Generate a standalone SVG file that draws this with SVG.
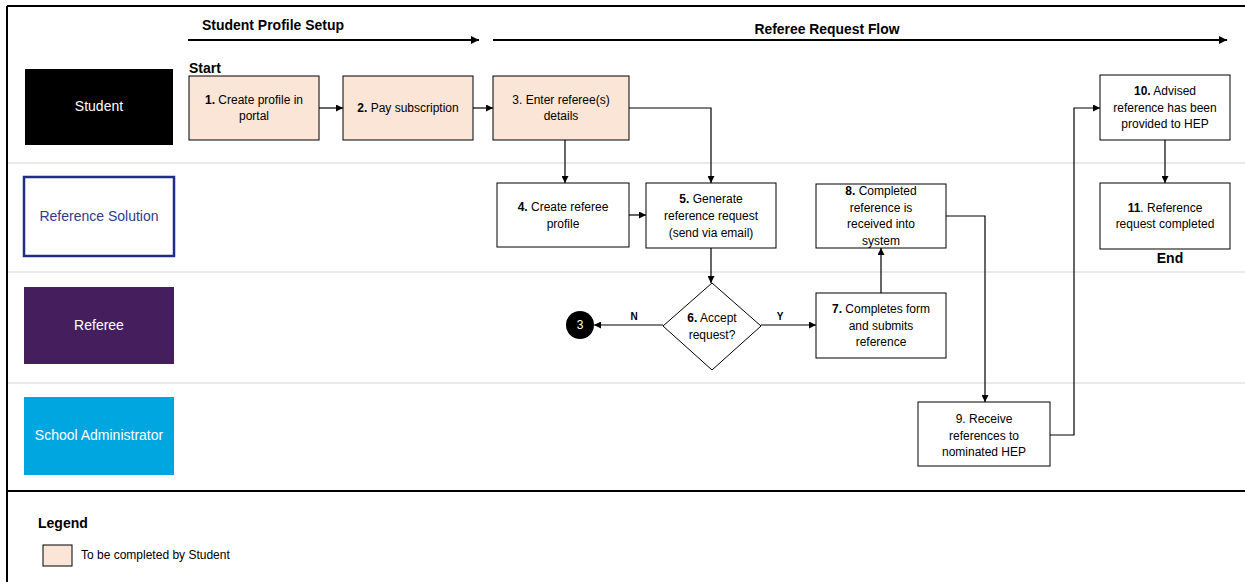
<svg xmlns="http://www.w3.org/2000/svg" width="1245" height="582" viewBox="0 0 1245 582">
<defs>
<marker id="ah" viewBox="0 0 10 10" refX="10" refY="5" markerWidth="7" markerHeight="7" markerUnits="userSpaceOnUse" orient="auto">
<path d="M0,0 L10,5 L0,10 z" fill="#000"/>
</marker>
<marker id="ah2" viewBox="0 0 10 10" refX="10" refY="5" markerWidth="8" markerHeight="8" markerUnits="userSpaceOnUse" orient="auto">
<path d="M0,0 L10,5 L0,10 z" fill="#000"/>
</marker>
<style>
text{font-family:"Liberation Sans",Arial,sans-serif;}
.t{font-size:12px;fill:#000;text-anchor:middle;}
.b{font-weight:bold;}
.box{fill:#fff;stroke:#000;stroke-width:1;}
.stu{fill:#fbe5d6;stroke:#000;stroke-width:1;}
.lane{font-size:14px;text-anchor:middle;}
.sep{stroke:#e3e3e3;stroke-width:1.5;}
.c{fill:none;stroke:#000;stroke-width:1.2;marker-end:url(#ah);}
.p{fill:none;stroke:#000;stroke-width:2;marker-end:url(#ah2);}
.ph{font-size:14px;font-weight:bold;text-anchor:middle;}
</style>
</defs>
<rect width="1245" height="582" fill="#fff"/>
<g id="frame">
<line x1="7" y1="6" x2="1245" y2="6" stroke="#000" stroke-width="2"/>
<line x1="7" y1="6" x2="7" y2="582" stroke="#000" stroke-width="2"/>
<line x1="7" y1="491" x2="1245" y2="491" stroke="#000" stroke-width="2"/>
<line class="sep" x1="8" y1="163" x2="1245" y2="163"/>
<line class="sep" x1="8" y1="272" x2="1245" y2="272"/>
<line class="sep" x1="8" y1="383" x2="1245" y2="383"/>
</g>
<g id="phases">
<text class="ph" x="273" y="30" textLength="142" lengthAdjust="spacingAndGlyphs">Student Profile Setup</text>
<line class="p" x1="188" y1="40" x2="479" y2="40"/>
<text class="ph" x="827" y="34" textLength="145" lengthAdjust="spacingAndGlyphs">Referee Request Flow</text>
<line class="p" x1="493" y1="40" x2="1227" y2="40"/>
</g>
<g id="lane-student"><rect x="25" y="69" width="148" height="76" fill="#000"/><text class="lane" x="99" y="111" fill="#fff">Student</text></g>
<g id="lane-refsol"><rect x="24" y="177" width="150" height="79" fill="#fff" stroke="#1f2d86" stroke-width="2.5"/><text class="lane" x="99" y="221" fill="#2e3b8c">Reference Solution</text></g>
<g id="lane-referee"><rect x="24" y="287" width="150" height="77" fill="#451e5e"/><text class="lane" x="99" y="330" fill="#fff">Referee</text></g>
<g id="lane-admin"><rect x="24" y="397" width="150" height="78" fill="#00a6df"/><text class="lane" x="99" y="440" fill="#fff">School Administrator</text></g>
<g id="start"><text class="b" x="189" y="73" font-size="14">Start</text></g>
<g id="n1"><rect class="stu" x="189" y="76" width="130" height="64"/><text class="t" x="254" y="104"><tspan class="b">1.</tspan> Create profile in</text><text class="t" x="254" y="120">portal</text></g>
<g id="n2"><rect class="stu" x="343" y="76" width="130" height="64"/><text class="t" x="408" y="112"><tspan class="b">2.</tspan> Pay subscription</text></g>
<g id="n3"><rect class="stu" x="493" y="76" width="136" height="64"/><text class="t" x="561" y="104">3. Enter referee(s)</text><text class="t" x="561" y="120">details</text></g>
<g id="n4"><rect class="box" x="497" y="183" width="132" height="64"/><text class="t" x="563" y="211"><tspan class="b">4.</tspan> Create referee</text><text class="t" x="563" y="228">profile</text></g>
<g id="n5"><rect class="box" x="646" y="183" width="130" height="65"/><text class="t" x="711" y="203"><tspan class="b">5.</tspan> Generate</text><text class="t" x="711" y="220">reference request</text><text class="t" x="711" y="237">(send via email)</text></g>
<g id="n6"><polygon class="box" points="712,283 761,326 712,370 663,326"/><text class="t" x="712" y="322"><tspan class="b">6.</tspan> Accept</text><text class="t" x="712" y="339">request?</text></g>
<g id="n3c"><circle cx="580" cy="325" r="14" fill="#000"/><text class="t" x="580" y="329" style="fill:#fff">3</text></g>
<g id="n7"><rect class="box" x="816" y="293" width="130" height="65"/><text class="t" x="881" y="313"><tspan class="b">7.</tspan> Completes form</text><text class="t" x="881" y="330">and submits</text><text class="t" x="881" y="346">reference</text></g>
<g id="n8"><rect class="box" x="816" y="184" width="130" height="64"/><text class="t" x="881" y="195"><tspan class="b">8.</tspan> Completed</text><text class="t" x="881" y="212">reference is</text><text class="t" x="881" y="228">received into</text><text class="t" x="881" y="245">system</text></g>
<g id="n9"><rect class="box" x="918" y="402" width="132" height="64"/><text class="t" x="984" y="423">9. Receive</text><text class="t" x="984" y="440">references to</text><text class="t" x="984" y="456">nominated HEP</text></g>
<g id="n10"><rect class="box" x="1100" y="75" width="130" height="65"/><text class="t" x="1165" y="95"><tspan class="b">10.</tspan> Advised</text><text class="t" x="1165" y="112">reference has been</text><text class="t" x="1165" y="128">provided to HEP</text></g>
<g id="n11"><rect class="box" x="1100" y="183" width="130" height="66"/><text class="t" x="1165" y="212"><tspan class="b">11</tspan>. Reference</text><text class="t" x="1165" y="228">request completed</text></g>
<g id="end"><text class="b" x="1170" y="263" font-size="14" text-anchor="middle">End</text></g>
<g id="connectors">
<line class="c" x1="319" y1="108" x2="343" y2="108"/>
<line class="c" x1="473" y1="108" x2="493" y2="108"/>
<line class="c" x1="565" y1="140" x2="565" y2="183"/>
<polyline class="c" points="629,108 711,108 711,183"/>
<line class="c" x1="629" y1="215" x2="646" y2="215"/>
<line class="c" x1="711" y1="248" x2="711" y2="283"/>
<line class="c" x1="663" y1="325" x2="594" y2="325"/>
<line class="c" x1="761" y1="325" x2="816" y2="325"/>
<line class="c" x1="881" y1="293" x2="881" y2="248"/>
<polyline class="c" points="946,216 985,216 985,402"/>
<polyline class="c" points="1050,435 1074,435 1074,108 1100,108"/>
<line class="c" x1="1165" y1="140" x2="1165" y2="183"/>
<text x="634" y="320" font-size="10" font-weight="bold" text-anchor="middle">N</text>
<text x="780" y="320" font-size="10" font-weight="bold" text-anchor="middle">Y</text>
</g>
<g id="legend">
<text x="38" y="528" font-size="14" font-weight="bold">Legend</text>
<rect class="stu" x="43" y="545" width="29" height="21"/>
<text x="81" y="559" font-size="12">To be completed by Student</text>
</g>
</svg>
